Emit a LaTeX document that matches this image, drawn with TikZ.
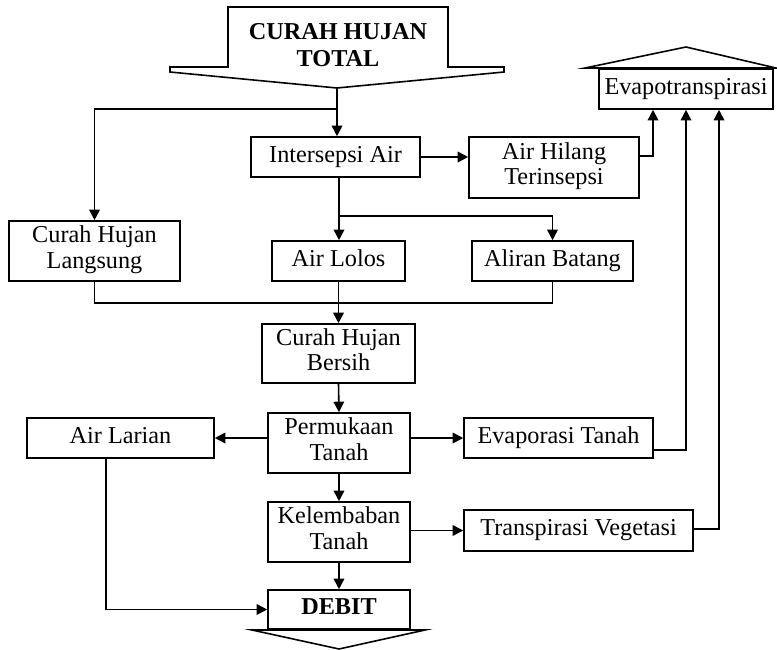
\documentclass[tikz,border=0pt]{standalone}
\usepackage{fontspec}
\setmainfont{Liberation Serif}
\usetikzlibrary{arrows.meta,calc}

\tikzset{
  box/.style={draw,line width=0.9pt,align=center,inner sep=0pt,
    font=\fontsize{13.8}{14.4}\selectfont,execute at begin node=\strut},
  arr/.style={line width=0.9pt,-{Triangle[length=6pt,width=6pt]}},
  ln/.style={line width=0.9pt}
}

\begin{document}
\begin{tikzpicture}[x=0.02cm,y=-0.02cm]
  \useasboundingbox (0,0) rectangle (777,649);

  % big input arrow on top
  \draw[ln] (228,7) -- (448,7) -- (448,67) -- (504,67) -- (504,72) -- (337,88)
    -- (170,72) -- (170,67) -- (228,67) -- cycle;
  \node[font=\fontsize{13.8}{15.4}\selectfont\bfseries,align=center] (total) at (338,45) {CURAH HUJAN\\TOTAL};
  \coordinate (tip) at (337,88);

  % boxes
  \node[box,minimum width=3.38cm,minimum height=0.8cm] (inter) at (335.5,157) {Intersepsi Air};
  \node[box,minimum width=3.4cm,minimum height=1.22cm] (hilang) at (554,167.5) {Air Hilang\\Terinsepsi\strut};
  \node[box,minimum width=3.48cm,minimum height=0.8cm] (evapo) at (686,89) {Evapotranspirasi};
  \draw[ln] (585,68) -- (686,47) -- (776,68) -- cycle;
  \node[box,minimum width=3.42cm,minimum height=1.2cm] (langsung) at (94.5,251) {Curah Hujan\\Langsung\strut};
  \node[box,minimum width=2.66cm,minimum height=0.8cm] (lolos) at (338.5,261) {Air Lolos};
  \node[box,minimum width=3.22cm,minimum height=0.8cm] (batang) at (552.5,261) {Aliran Batang};
  \node[box,minimum width=3.06cm,minimum height=1.18cm] (bersih) at (338.5,353.5) {Curah Hujan\\Bersih\strut};
  \node[box,minimum width=2.84cm,minimum height=1.2cm] (permukaan) at (339,443) {Permukaan\\Tanah\strut};
  \node[box,minimum width=3.74cm,minimum height=0.8cm] (larian) at (120.5,438) {Air Larian};
  \node[box,minimum width=3.78cm,minimum height=0.8cm] (evaptanah) at (558.5,438) {Evaporasi Tanah};
  \node[box,minimum width=2.84cm,minimum height=1.2cm] (lembab) at (339,532) {Kelembaban\\Tanah\strut};
  \node[box,minimum width=4.58cm,minimum height=0.82cm] (transp) at (578.5,530.5) {Transpirasi Vegetasi};
  \node[box,minimum width=2.84cm,minimum height=0.78cm,font=\fontsize{13.8}{14.4}\selectfont\bfseries] (debit) at (339,609.5) {DEBIT};
  \draw[ln] (252,630) -- (425,630) -- (339,649) -- cycle;

  % junctions
  \coordinate (split1) at (337,109);
  \coordinate (split2) at (339,216);
  \coordinate (merge) at (338.5,303);

  % connectors
  \draw[arr] (tip) -- (tip |- inter.north);
  \draw[arr] (split1) -| (langsung.north);
  \draw[arr] (inter.east |- 0,157) -- (hilang.west |- 0,157);
  \draw[ln] (inter.south -| split2) -- (split2);
  \draw[arr] (split2) -- (split2 |- lolos.north);
  \draw[arr] (split2) -| (batang.north);
  \draw[ln] (langsung.south) |- (merge) -| (batang.south);
  \draw[arr] (lolos.south) -- (bersih.north);
  \draw[arr] (bersih.south) -- (permukaan.north);
  \draw[arr] (larian.east -| permukaan.west) -- (larian.east);
  \draw[arr] (evaptanah.west -| permukaan.east) -- (evaptanah.west);
  \draw[arr] (permukaan.south) -- (lembab.north);
  \draw[arr] (transp.west -| lembab.east) -- (transp.west);
  \draw[arr] (lembab.south) -- (debit.north);
  \draw[arr] ($(larian.south)+(-14.5,0)$) |- (debit.west);
  \draw[arr] ($(hilang.east)+(0,-11.5)$) -| ($(evapo.south)+(-33,0)$);
  \draw[arr] ($(evaptanah.east)+(0,12)$) -| (evapo.south);
  \draw[arr] ($(transp.east)+(0,-1.5)$) -| ($(evapo.south)+(33,0)$);
\end{tikzpicture}
\end{document}
